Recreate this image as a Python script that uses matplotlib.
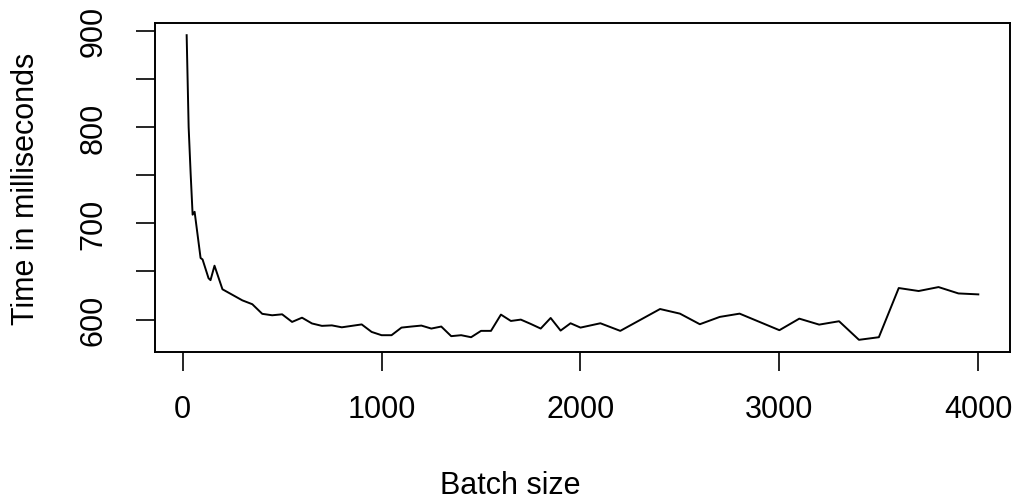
import matplotlib
matplotlib.use("Agg")
from matplotlib import pyplot as plt

batch_sizes = [20, 30, 40, 50, 60, 90, 100, 130, 140, 160, 200,
               300, 350, 400, 450, 500, 550, 600, 650, 700, 750, 800,
               900, 950, 1000, 1050, 1100, 1150, 1200, 1250, 1300, 1350,
               1400, 1450, 1500, 1550, 1600, 1650, 1700, 1750, 1800, 1850,
               1900, 1950, 2000, 2100, 2200, 2400, 2500, 2600, 2700, 2800,
               3000, 3100, 3200, 3300, 3400, 3500, 3600, 3700, 3800, 3900, 4000]
time_ms = [895.5, 800, 752, 709, 712, 664, 662.5, 643, 641, 656, 631.5,
           620, 616, 606, 604.5, 605.5, 597.6, 602, 596, 593.5, 594, 592,
           595, 587.2, 583.8, 583.8, 591.7, 592.8, 593.8, 590.7, 592.8, 582.8,
           583.8, 581.7, 588.3, 588.3, 605.2, 598.6, 600, 595.5, 590.7, 601.7,
           588.6, 596.2, 591.7, 596.2, 588.3, 611, 606.2, 595.2, 602.8, 606.2,
           589, 601, 594.8, 598.3, 579, 581.7, 632.8, 629.7, 633.8, 627.2, 626.2]

x_ticks = [0, 1000, 2000, 3000, 4000]
y_ticks = [600, 650, 700, 750, 800, 850, 900]
y_labels = ["600", "", "700", "", "800", "", "900"]

plt.rcParams['font.family'] = ['Liberation Sans', 'DejaVu Sans']
fs = 22

fig = plt.figure(figsize=(10.21, 5.02), dpi=100)
ax = fig.add_axes([0.1518, 0.2968, 0.8374, 0.6554])

ax.plot(batch_sizes, time_ms, color="black", linewidth=1.4)

# R style axis ranges: data range padded by 4% on each side
def r_range(vals):
    lo, hi = min(vals), max(vals)
    pad = (hi - lo) * 0.04
    return lo - pad, hi + pad

ax.set_xlim(*r_range(batch_sizes))
ax.set_ylim(*r_range(time_ms))

ax.set_xticks(x_ticks)
ax.set_xticklabels([str(v) for v in x_ticks])
ax.set_yticks(y_ticks)
ax.set_yticklabels(y_labels, rotation=90, va="center")

ax.tick_params(axis="both", direction="out", length=13.5, width=1.2,
               labelsize=fs, colors="black")
ax.tick_params(axis="x", pad=17)
ax.tick_params(axis="y", pad=20)

for s in ax.spines.values():
    s.set_linewidth(1.4)
    s.set_color("black")

ax.set_xlabel("Batch size", fontsize=fs)
ax.xaxis.label.set_va("center")
ax.xaxis.set_label_coords(0.5, 1 - 486 / 502, transform=fig.transFigure)

ax.set_ylabel("Time in milliseconds", fontsize=fs)
ax.yaxis.label.set_va("center")
ax.yaxis.set_label_coords(26 / 1021, 1 - 189 / 502, transform=fig.transFigure)

fig.savefig("out.png", dpi=100)
